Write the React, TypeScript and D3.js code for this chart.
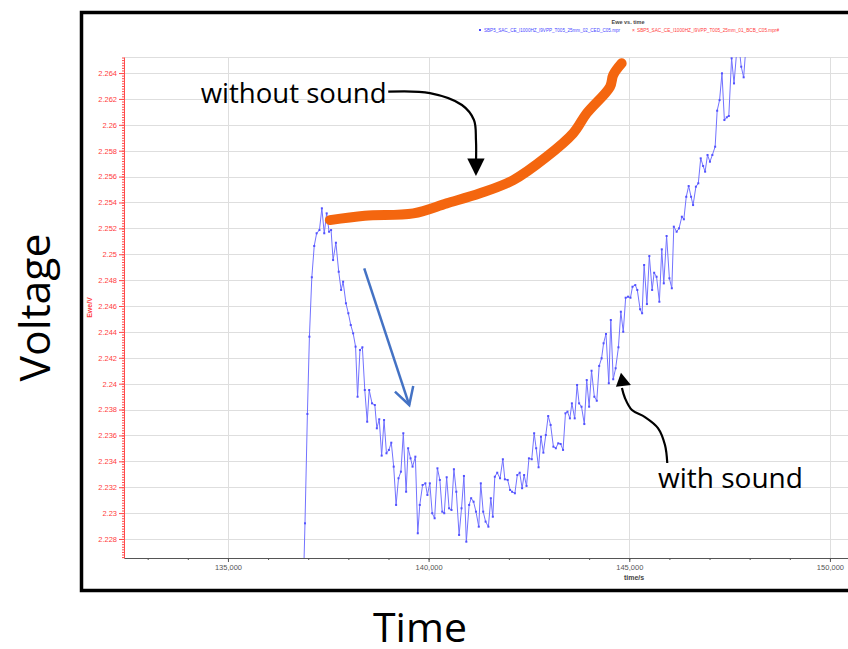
import { useEffect, useRef } from "react";
import * as d3 from "d3";

// blue trace (with sound), time in s, Ewe in V
const blueTime = [
  136890, 136920, 136980, 137030, 137090, 137150, 137210, 137280, 137340, 137400,
  137460, 137520, 137570, 137620, 137690, 137760, 137820, 137870, 137940, 138000,
  138060, 138120, 138180, 138230, 138290, 138350, 138410, 138470, 138520, 138590,
  138660, 138710, 138770, 138830, 138890, 138950, 139010, 139070, 139130, 139190,
  139250, 139310, 139370, 139440, 139490, 139550, 139600, 139670, 139730, 139780,
  139850, 139920, 139970, 140030, 140090, 140150, 140220, 140280, 140340, 140390,
  140450, 140510, 140570, 140630, 140690, 140760, 140820, 140880, 140940, 141010,
  141060, 141120, 141180, 141250, 141300, 141360, 141420, 141490, 141550, 141600,
  141650, 141710, 141780, 141850, 141900, 141970, 142030, 142080, 142150, 142210,
  142270, 142330, 142380, 142440, 142500, 142570, 142630, 142680, 142740, 142800,
  142860, 142920, 142980, 143040, 143110, 143170, 143230, 143290, 143350, 143410,
  143460, 143520, 143570, 143640, 143700, 143750, 143810, 143880, 143940, 144000,
  144060, 144130, 144190, 144250, 144310, 144360, 144420, 144490, 144540, 144600,
  144660, 144730, 144790, 144850, 144910, 144970, 145030, 145080, 145150, 145200,
  145270, 145320, 145370, 145440, 145500, 145570, 145620, 145680, 145750, 145810,
  145860, 145930, 146000, 146060, 146110, 146180, 146240, 146310, 146360, 146420,
  146480, 146540, 146590, 146660, 146720, 146780, 146840, 146890, 146950, 147010,
  147070, 147140, 147190, 147250, 147310, 147370, 147430, 147480, 147550, 147610,
  147680, 147730, 147790, 147850, 147910,
];
const blueVolt = [
  2.22561, 2.22921, 2.23766, 2.24363, 2.24822, 2.25064, 2.25162, 2.25187, 2.25355, 2.25162,
  2.25316, 2.25174, 2.25187, 2.24955, 2.25089, 2.24865, 2.24724, 2.24788, 2.24621, 2.24544,
  2.24453, 2.24389, 2.24286, 2.23899, 2.2426, 2.24281, 2.23951, 2.23706, 2.23951, 2.23848,
  2.23835, 2.23655, 2.23725, 2.23444, 2.23719, 2.23462, 2.23488, 2.23544, 2.23359, 2.23063,
  2.23269, 2.2332, 2.23617, 2.23165, 2.23501, 2.23423, 2.23359, 2.23436, 2.22844, 2.23063,
  2.23217, 2.2323, 2.2314, 2.2323, 2.22999, 2.2296, 2.23346, 2.23256, 2.23011, 2.22999,
  2.23277, 2.23037, 2.23024, 2.23339, 2.23165, 2.22831, 2.23037, 2.23287, 2.22779, 2.23063,
  2.23115, 2.23088, 2.23011, 2.22895, 2.2323, 2.23011, 2.22934, 2.22895, 2.23115, 2.22972,
  2.23281, 2.23312, 2.23269, 2.23416, 2.23261, 2.23256, 2.23179, 2.23165, 2.23153, 2.23294,
  2.23312, 2.23192, 2.23294, 2.2321, 2.23423, 2.23416, 2.23617, 2.23501, 2.23354, 2.2359,
  2.23467, 2.23603, 2.2375, 2.23681, 2.23513, 2.23501, 2.23539, 2.23534, 2.23488, 2.23771,
  2.23784, 2.23732, 2.23848, 2.23732, 2.2399, 2.23848, 2.23822, 2.23688, 2.24028, 2.23822,
  2.241, 2.23899, 2.23868, 2.24137, 2.24196, 2.24312, 2.24384, 2.24003, 2.24492, 2.24034,
  2.24119, 2.24281, 2.24556, 2.24401, 2.24664, 2.24672, 2.24664, 2.24749, 2.24762, 2.24724,
  2.24575, 2.24544, 2.24917, 2.24615, 2.24986, 2.24724, 2.24857, 2.24826, 2.24633, 2.25038,
  2.24775, 2.25141, 2.24814, 2.24737, 2.25213, 2.25174, 2.252, 2.2529, 2.2527, 2.25444,
  2.25527, 2.25444, 2.2538, 2.25522, 2.25548, 2.25741, 2.25682, 2.25638, 2.25767, 2.25715,
  2.25767, 2.25831, 2.26109, 2.26191, 2.26398, 2.26037, 2.26058, 2.26068, 2.26514, 2.2632,
  2.26578, 2.26616, 2.26449, 2.26367, 2.26616,
];

// hand-drawn orange stroke (without sound)
const orangeTime = [137540, 138410, 139620, 140450, 141280, 142110, 142940, 143600, 143940, 144520, 144600, 144810];
const orangeVolt = [2.25264, 2.25298, 2.25316, 2.25393, 2.25471, 2.25573, 2.25753, 2.25934, 2.26089, 2.26294, 2.26385, 2.26475];

const yTicks = [2.228, 2.23, 2.232, 2.234, 2.236, 2.238, 2.24, 2.242, 2.244, 2.246, 2.248, 2.25, 2.252, 2.254, 2.256, 2.258, 2.26, 2.262, 2.264];
const xTicks = [135000, 140000, 145000, 150000];
const legendLabels = [
  "SBP5_SAC_CE_I1000HZ_I9VPP_T005_25mm_02_CED_C05.mpr",
  "SBP5_SAC_CE_I1000HZ_I9VPP_T005_25mm_01_BCB_C05.mpr#",
];

// annotation arrows, in the same time / volt units
const noSoundArrowTime = [138994, 140033, 140831, 141130, 141180, 141180];
const noSoundArrowVolt = [2.26256, 2.26245, 2.26153, 2.26037, 2.25882, 2.25712];
const noSoundHeadTime = [140963, 141396, 141180];
const noSoundHeadVolt = [2.25739, 2.25739, 2.25604];
const soundArrowTime = [145947, 145890, 145715, 145391, 145067, 144892, 144817];
const soundArrowVolt = [2.23387, 2.23526, 2.23657, 2.23742, 2.23796, 2.23889, 2.23966];
const soundHeadTime = [144668, 145042, 144793];
const soundHeadVolt = [2.23976, 2.2399, 2.24085];
const dropArrowTime = [138396, 139518];
const dropArrowVolt = [2.24891, 2.23835];
const dropWingTime = [139161, 139518, 139617];
const dropWingVolt = [2.23938, 2.23835, 2.23982];

const W = 848;
const H = 649;
const plot = { left: 124, top: 57, right: 850, bottom: 558 };

const App = () => {
  const ref = useRef<SVGSVGElement | null>(null);

  useEffect(() => {
    if (!ref.current) return;
    const svg = d3.select(ref.current).html("");

    svg.append("rect").attr("width", W).attr("height", H).attr("fill", "#fff");

    const x = d3.scaleLinear().domain([132410, 150500]).range([plot.left, plot.right]);
    const y = d3.scaleLinear().domain([2.22653, 2.26524]).range([plot.bottom, plot.top]);

    const zip = (ts: number[], vs: number[]) => ts.map((t, i) => [t, vs[i]] as [number, number]);

    // outer frame
    svg.append("rect")
      .attr("x", 81.5).attr("y", 12.5)
      .attr("width", 800).attr("height", 578)
      .attr("fill", "none").attr("stroke", "#000").attr("stroke-width", 3.5);

    // grid
    const grid = svg.append("g").attr("stroke", "#dedede").attr("stroke-width", 1);
    grid.selectAll("line.h")
      .data(yTicks)
      .join("line")
      .attr("x1", plot.left).attr("x2", plot.right)
      .attr("y1", (d) => Math.round(y(d)) + 0.5).attr("y2", (d) => Math.round(y(d)) + 0.5);
    grid.append("line")
      .attr("x1", plot.left).attr("x2", plot.right)
      .attr("y1", plot.top + 0.5).attr("y2", plot.top + 0.5);
    grid.selectAll("line.v")
      .data(xTicks)
      .join("line")
      .attr("x1", (d) => Math.round(x(d)) + 0.5).attr("x2", (d) => Math.round(x(d)) + 0.5)
      .attr("y1", plot.top).attr("y2", plot.bottom);

    const small = "'Liberation Sans', Arial, sans-serif";

    // y axis (red)
    const yMinor = svg.append("g")
      .attr("transform", `translate(${plot.left},0)`)
      .attr("color", "#ff4b4b")
      .call(d3.axisLeft(y).ticks(190).tickSize(2).tickSizeOuter(0).tickFormat(() => ""));
    yMinor.select(".domain").remove();
    svg.append("g")
      .attr("transform", `translate(${plot.left},0)`)
      .attr("color", "#ff4b4b")
      .call(
        d3.axisLeft(y)
          .tickValues(yTicks)
          .tickSize(5)
          .tickSizeOuter(0)
          .tickPadding(2)
          .tickFormat((d) => String(+(+d).toFixed(3)))
      )
      .call((g) => g.selectAll("text").attr("font-size", 7.5).attr("font-family", small).attr("fill", "#ff3c3c"));

    // x axis
    const xMinor = svg.append("g")
      .attr("transform", `translate(0,${plot.bottom})`)
      .attr("color", "#555")
      .call(d3.axisBottom(x).ticks(18).tickSize(2).tickSizeOuter(0).tickFormat(() => ""));
    xMinor.select(".domain").remove();
    svg.append("g")
      .attr("transform", `translate(0,${plot.bottom})`)
      .attr("color", "#555")
      .call(
        d3.axisBottom(x)
          .tickValues(xTicks)
          .tickSize(4)
          .tickSizeOuter(0)
          .tickPadding(3)
          .tickFormat((d) => d3.format(",")(d as number))
      )
      .call((g) => g.selectAll("text").attr("font-size", 7.5).attr("font-family", small).attr("fill", "#555"));

    // axis titles of the instrument plot
    svg.append("text")
      .attr("transform", `translate(92,${(plot.top + plot.bottom) / 2}) rotate(-90)`)
      .attr("text-anchor", "middle")
      .attr("font-family", small).attr("font-size", 7).attr("font-weight", "bold")
      .attr("fill", "#ff4040")
      .text("Ewe/V");
    svg.append("text")
      .attr("x", 634).attr("y", 580)
      .attr("text-anchor", "middle")
      .attr("font-family", small).attr("font-size", 7).attr("font-weight", "bold")
      .attr("fill", "#444")
      .text("time/s");

    // title + legend
    svg.append("text")
      .attr("x", 628).attr("y", 24)
      .attr("text-anchor", "middle")
      .attr("font-family", small).attr("font-size", 5.5).attr("font-weight", "bold")
      .attr("fill", "#444")
      .text("Ewe vs. time");
    svg.append("rect").attr("x", 479).attr("y", 29).attr("width", 2).attr("height", 2).attr("fill", "#4848ff");
    svg.append("text")
      .attr("x", 484).attr("y", 32)
      .attr("font-family", small).attr("font-size", 5)
      .attr("textLength", 136).attr("lengthAdjust", "spacingAndGlyphs")
      .attr("fill", "#4848ff")
      .text(legendLabels[0]);
    svg.append("text")
      .attr("x", 633.5).attr("y", 32)
      .attr("text-anchor", "middle")
      .attr("font-family", small).attr("font-size", 5)
      .attr("fill", "#ff4040")
      .text("×");
    svg.append("text")
      .attr("x", 637).attr("y", 32)
      .attr("font-family", small).attr("font-size", 5)
      .attr("textLength", 142).attr("lengthAdjust", "spacingAndGlyphs")
      .attr("fill", "#ff4040")
      .text(legendLabels[1]);

    // blue trace, clipped to plot
    svg.append("clipPath").attr("id", "plot-clip")
      .append("rect")
      .attr("x", plot.left).attr("y", plot.top)
      .attr("width", plot.right - plot.left).attr("height", plot.bottom - plot.top);

    const blue = zip(blueTime, blueVolt);
    const traceG = svg.append("g").attr("clip-path", "url(#plot-clip)");
    traceG.append("path")
      .datum(blue)
      .attr("fill", "none")
      .attr("stroke", "#7272ff")
      .attr("stroke-width", 1)
      .attr("d", d3.line().x((d) => x(d[0])).y((d) => y(d[1])) as any);
    traceG.selectAll("rect.pt")
      .data(blue)
      .join("rect")
      .attr("x", (d) => x(d[0]) - 1).attr("y", (d) => y(d[1]) - 1)
      .attr("width", 2).attr("height", 2)
      .attr("fill", "#5252ff");

    // orange hand-drawn stroke
    svg.append("path")
      .datum(zip(orangeTime, orangeVolt))
      .attr("fill", "none")
      .attr("stroke", "#f4660f")
      .attr("stroke-width", 10)
      .attr("stroke-linecap", "round")
      .attr("stroke-linejoin", "round")
      .attr("d", d3.line().curve(d3.curveCatmullRom).x((d) => x(d[0])).y((d) => y(d[1])) as any);

    // annotation arrows
    const curve = d3.line().curve(d3.curveCatmullRom).x((d) => x(d[0])).y((d) => y(d[1]));
    const straight = d3.line().x((d) => x(d[0])).y((d) => y(d[1]));

    svg.append("path")
      .datum(zip(noSoundArrowTime, noSoundArrowVolt))
      .attr("fill", "none").attr("stroke", "#000").attr("stroke-width", 2.2)
      .attr("d", curve as any);
    svg.append("path")
      .datum(zip(noSoundHeadTime, noSoundHeadVolt))
      .attr("fill", "#000")
      .attr("d", (d) => straight(d) + "Z");

    svg.append("path")
      .datum(zip(soundArrowTime, soundArrowVolt))
      .attr("fill", "none").attr("stroke", "#000").attr("stroke-width", 2.2)
      .attr("d", curve as any);
    svg.append("path")
      .datum(zip(soundHeadTime, soundHeadVolt))
      .attr("fill", "#000")
      .attr("d", (d) => straight(d) + "Z");

    svg.append("path")
      .datum(zip(dropArrowTime, dropArrowVolt))
      .attr("fill", "none").attr("stroke", "#4472c4").attr("stroke-width", 2.5)
      .attr("d", straight as any);
    svg.append("path")
      .datum(zip(dropWingTime, dropWingVolt))
      .attr("fill", "none").attr("stroke", "#4472c4").attr("stroke-width", 2.5)
      .attr("stroke-linejoin", "miter")
      .attr("d", straight as any);

    // annotation text
    const big = "'Open Sans', 'Noto Sans', sans-serif";
    svg.append("text")
      .attr("x", x(134320)).attr("y", y(2.26168))
      .attr("font-family", big).attr("font-size", 27)
      .attr("textLength", 186).attr("lengthAdjust", "spacingAndGlyphs")
      .attr("fill", "#000")
      .text("without sound");
    svg.append("text")
      .attr("x", x(145715)).attr("y", y(2.23194))
      .attr("font-family", big).attr("font-size", 27)
      .attr("textLength", 145).attr("lengthAdjust", "spacingAndGlyphs")
      .attr("fill", "#000")
      .text("with sound");

    // slide axis labels
    svg.append("text")
      .attr("transform", `translate(50,${(plot.top + plot.bottom) / 2}) rotate(-90)`)
      .attr("text-anchor", "middle")
      .attr("font-family", big).attr("font-size", 42)
      .attr("textLength", 148).attr("lengthAdjust", "spacingAndGlyphs")
      .attr("fill", "#000")
      .text("Voltage");
    svg.append("text")
      .attr("x", 420).attr("y", 642)
      .attr("text-anchor", "middle")
      .attr("font-family", big).attr("font-size", 41)
      .attr("fill", "#000")
      .text("Time");
  }, []);

  return (
    <svg
      ref={ref}
      width={W}
      height={H}
      style={{ position: "absolute", left: 0, top: 0, display: "block" }}
    ></svg>
  );
};

export default App;
